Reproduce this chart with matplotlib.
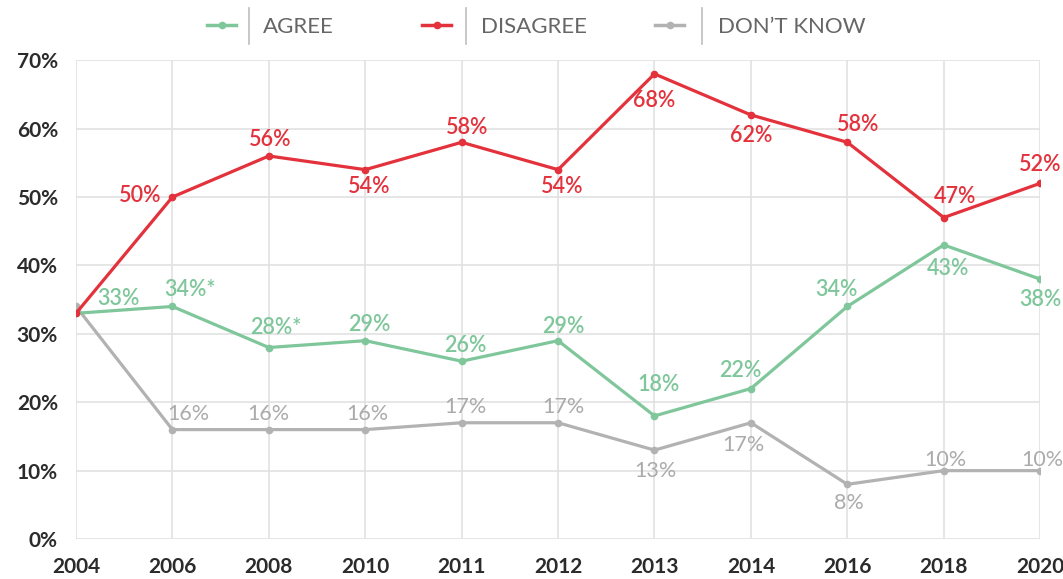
import matplotlib.pyplot as plt
from matplotlib.lines import Line2D

plt.rcParams['font.family'] = ['Lato', 'DejaVu Sans']

years = ['2004', '2006', '2008', '2010', '2011', '2012', '2013', '2014', '2016', '2018', '2020']
agree = [33, 34, 28, 29, 26, 29, 18, 22, 34, 43, 38]
disagree = [33, 50, 56, 54, 58, 54, 68, 62, 58, 47, 52]
dont_know = [34, 16, 16, 16, 17, 17, 13, 17, 8, 10, 10]

agree_text = ['33%', '34%*', '28%*', '29%', '26%', '29%', '18%', '22%', '34%', '43%', '38%']

GREEN = '#7fc79b'
RED = '#e3323c'
GRAY = '#b2b2b2'
GRAY_TXT = '#ababab'

# label offsets in pixels (dx, dy) relative to each point; None = no label
agree_off = [(42, 15), (18, 17), (7, 20), (4, 16), (4, 16), (5, 14), (4, 31),
             (-11, 18), (-11, 17), (4, -24), (0, -20)]
disagree_off = [None, (-32, 2), (1, 16), (4, -17), (5, 15), (4, -17), (0, -27),
                (0, -21), (11, 18), (11, 21), (0, 19)]
dk_off = [None, (16, 16), (0, 16), (2, 16), (4, 16), (5, 16), (1, -21),
          (-7, -22), (2, -19), (2, 11), (2, 11)]

fig = plt.figure(figsize=(10.63, 5.79), dpi=100)
ax = fig.add_axes([0.0715, 0.069, 0.907, 0.827])

x = range(len(years))
ax.plot(x, dont_know, color=GRAY, lw=2.3, marker='o', ms=4.5, zorder=3)
ax.plot(x, agree, color=GREEN, lw=2.3, marker='o', ms=4.5, zorder=4)
ax.plot(x, disagree, color=RED, lw=2.3, marker='o', ms=4.5, zorder=5)


def put_labels(vals, texts, offs, color, weight):
    for i, (v, t, o) in enumerate(zip(vals, texts, offs)):
        if o is None:
            continue
        ax.annotate(t, (i, v), xytext=o, textcoords='offset pixels',
                    ha='center', va='center', color=color, fontsize=15.5,
                    fontweight=weight, zorder=6, annotation_clip=False)


put_labels(agree, agree_text, agree_off, GREEN, 'semibold')
put_labels(disagree, [f'{v}%' for v in disagree], disagree_off, RED, 'semibold')
put_labels(dont_know, [f'{v}%' for v in dont_know], dk_off, GRAY_TXT, 'normal')

ax.set_xlim(0, len(years) - 1)
ax.set_ylim(0, 70)
ax.set_xticks(list(x))
ax.set_xticklabels(years)
ax.set_yticks(range(0, 71, 10))
ax.set_yticklabels([f'{v}%' for v in range(0, 71, 10)])
ax.tick_params(length=0, labelsize=15, labelcolor='#2b2b2b')
ax.tick_params(axis='x', pad=13)
ax.tick_params(axis='y', pad=13)
for lab in ax.get_xticklabels() + ax.get_yticklabels():
    lab.set_fontweight('bold')
ax.grid(True, color='#e2e2e2', lw=1.2)
ax.set_axisbelow(True)
for s in ax.spines.values():
    s.set_visible(False)

# legend along the top, each entry: line marker | label
W, H = 1063, 579
entries = [('AGREE', GREEN, 207, 249, 263),
           ('DISAGREE', RED, 422, 466, 481),
           ('DON\u2019T KNOW', GRAY, 655, 702, 718)]
ly = 1 - 25 / H
for name, col, x0, sep, tx in entries:
    fig.add_artist(Line2D([x0 / W, (x0 + 29) / W], [ly, ly], color=col, lw=2.5))
    fig.add_artist(Line2D([(x0 + 14.5) / W], [ly], color=col, marker='o', ms=4.5))
    fig.add_artist(Line2D([sep / W, sep / W], [1 - 8 / H, 1 - 44 / H], color='#bdbdbd', lw=1.2))
    fig.text(tx / W, 1 - 27 / H, name, ha='left', va='center', fontsize=16, color='#666666')

fig.savefig('out.png', dpi=100)
